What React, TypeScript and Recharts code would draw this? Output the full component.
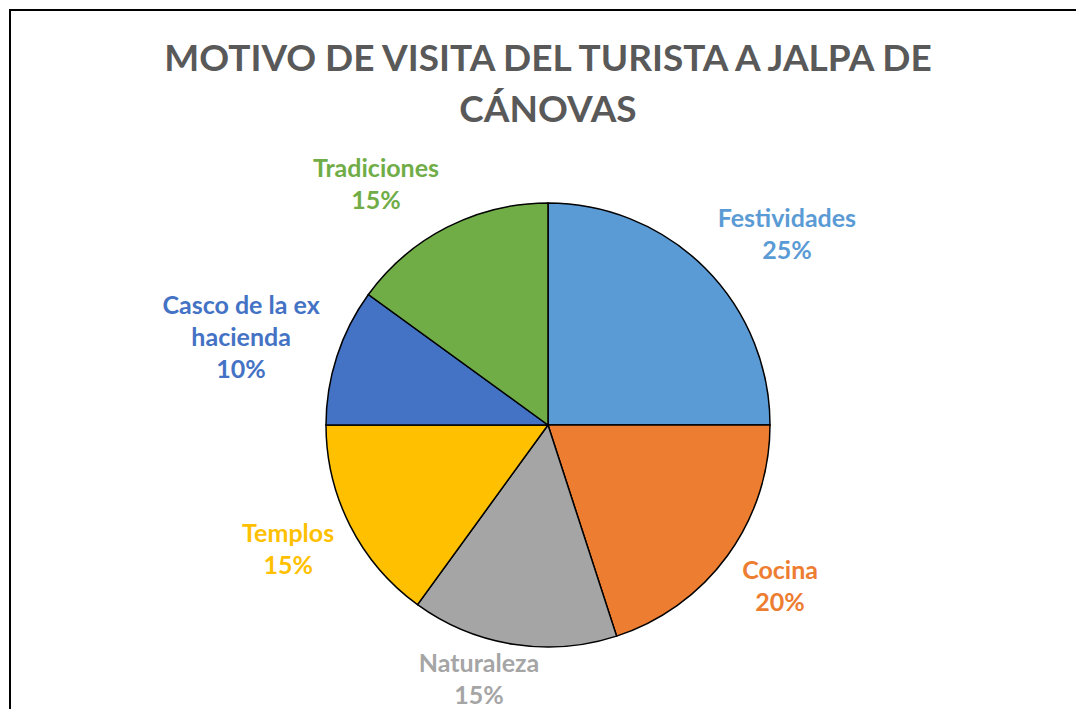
import { PieChart, Pie, Cell } from "recharts";

const categories = [
  "Festividades",
  "Cocina",
  "Naturaleza",
  "Templos",
  "Casco de la ex hacienda",
  "Tradiciones",
];
const shares = [25, 20, 15, 15, 10, 15];
const colors = ["#5B9BD5", "#ED7D31", "#A5A5A5", "#FFC000", "#4472C4", "#70AD47"];
const titleLines = ["MOTIVO DE VISITA DEL TURISTA A JALPA DE", "CÁNOVAS"];

const data = categories.map((name, i) => ({ name, value: shares[i] }));

const FONT = "Lato, 'Noto Sans', sans-serif";
const LABEL_SIZE = 25;
const LINE_GAP = 32;
const CHART_H = 709;
const RADIAN = Math.PI / 180;

let ctx: CanvasRenderingContext2D | null = null;
function textWidth(s: string) {
  if (!ctx) ctx = document.createElement("canvas").getContext("2d");
  if (!ctx) return s.length * LABEL_SIZE * 0.55;
  ctx.font = `bold ${LABEL_SIZE}px Lato`;
  return ctx.measureText(s).width;
}

// greedy wrap, roughly what Excel does for long category names
function wrap(name: string, max = 14) {
  const lines: string[] = [];
  let cur = "";
  name.split(" ").forEach((w) => {
    const next = cur ? cur + " " + w : w;
    if (next.length > max && cur) {
      lines.push(cur);
      cur = w;
    } else cur = next;
  });
  if (cur) lines.push(cur);
  return lines;
}

const clamp = (v: number) => Math.max(-1, Math.min(1, v));

function renderLabel(props: any) {
  const { cx, cy, midAngle, outerRadius, percent, name, index } = props;
  const lines = [...wrap(name), `${Math.round(percent * 100)}%`];
  const w = Math.max(...lines.map(textWidth));
  const h = lines.length * LINE_GAP;
  const cos = Math.cos(-midAngle * RADIAN);
  const sin = Math.sin(-midAngle * RADIAN);
  const r = outerRadius + 18;
  // label box sits just outside the slice, pushed outward
  const px = cx + r * cos;
  const py = cy + r * sin;
  const x = px + (w / 2) * clamp(cos / 0.3);
  let y = py + (h / 2) * sin;
  y = Math.min(y, CHART_H - h / 2 + 1);
  const top = y - h / 2 + LINE_GAP / 2;
  return (
    <text
      x={x}
      y={top}
      textAnchor="middle"
      dominantBaseline="central"
      fill={colors[index]}
      fontFamily={FONT}
      fontWeight="bold"
      fontSize={LABEL_SIZE}
    >
      {lines.map((l, i) => (
        <tspan key={i} x={x} y={top + i * LINE_GAP}>
          {l}
        </tspan>
      ))}
    </text>
  );
}

export default function App() {
  return (
    <div
      style={{
        position: "fixed",
        left: 0,
        top: 0,
        width: 1076,
        height: CHART_H,
        overflow: "hidden",
        background: "#fff",
      }}
    >
      <div
        style={{
          position: "absolute",
          left: 9,
          top: 9,
          width: 1090,
          height: 760,
          border: "2px solid #000",
        }}
      />
      <div
        style={{
          position: "absolute",
          left: 0,
          top: 31,
          width: 1096,
          textAlign: "center",
          fontFamily: FONT,
          fontWeight: "bold",
          fontSize: 37,
          lineHeight: "51px",
          color: "#595959",
        }}
      >
        {titleLines.map((t) => (
          <div key={t}>{t}</div>
        ))}
      </div>
      <div style={{ position: "absolute", left: 0, top: 0 }}>
        <PieChart
          width={1076}
          height={CHART_H}
          margin={{ top: 0, right: 0, bottom: 0, left: 0 }}
        >
          <Pie
            data={data}
            dataKey="value"
            nameKey="name"
            cx={548}
            cy={425}
            outerRadius={222}
            startAngle={90}
            endAngle={-270}
            stroke="#000"
            strokeWidth={1.5}
            label={renderLabel}
            labelLine={false}
            isAnimationActive={false}
          >
            {data.map((d, i) => (
              <Cell key={d.name} fill={colors[i]} />
            ))}
          </Pie>
        </PieChart>
      </div>
    </div>
  );
}
